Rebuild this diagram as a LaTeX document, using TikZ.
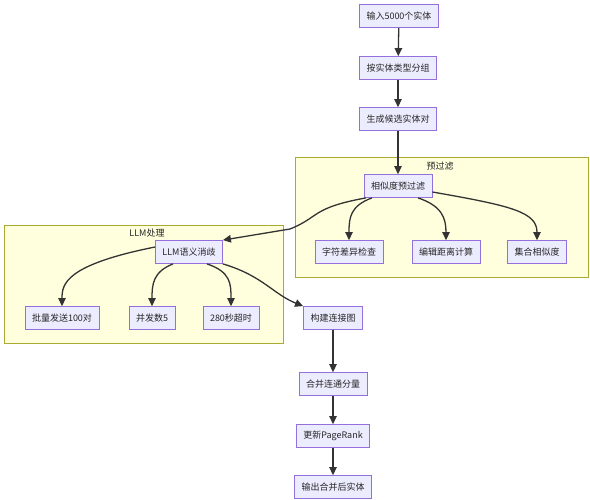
\documentclass[tikz,border=0pt]{standalone}
\usepackage{fontspec}
\newfontfamily\cjk{Noto Sans CJK SC}
\usetikzlibrary{arrows.meta}
\definecolor{nodefill}{HTML}{ECECFF}
\definecolor{nodeline}{HTML}{9370DB}
\definecolor{clfill}{HTML}{FFFFDE}
\definecolor{clline}{HTML}{AAAA33}
\definecolor{edge}{HTML}{333333}
\tikzset{
  box/.style={draw=nodeline, fill=nodefill, line width=0.8pt, inner xsep=7pt, inner ysep=0pt, minimum height=23pt, font=\cjk\fontsize{9}{11}\selectfont, text=black!85},
  cluster/.style={draw=clline, fill=clfill, line width=0.8pt},
  cltext/.style={font=\cjk\fontsize{9}{11}\selectfont, text=black!85},
  link/.style={draw=edge, line width=1.3pt, -{Triangle[length=8pt,width=7.5pt]}},
}
\begin{document}
\begin{tikzpicture}[x=1pt,y=-1pt]
\useasboundingbox (0,0) rectangle (590,500);
\fill[white] (0,0) rectangle (590,500);
% clusters
\draw[cluster] (295,157) rectangle (588,277);
\node[cltext] (lpre) at (440,166) {预过滤};
\draw[cluster] (4,225) rectangle (283,343);
\node[cltext] (lllm) at (147,233) {LLM处理};
% nodes
\node[box] (n1) at (399,16) {输入5000个实体};
\node[box] (n2) at (398,68) {按实体类型分组};
\node[box] (n3) at (398,119) {生成候选实体对};
\node[box] (n4) at (398,186) {相似度预过滤};
\node[box] (n5) at (349,252) {字符差异检查};
\node[box] (n6) at (446,252) {编辑距离计算};
\node[box] (n7) at (537,252) {集合相似度};
\node[box] (n8) at (189,252) {LLM语义消歧};
\node[box] (n9) at (62,318) {批量发送100对};
\node[box] (n10) at (152,318) {并发数5};
\node[box] (n11) at (231,318) {280秒超时};
\node[box] (n12) at (333,318) {构建连接图};
\node[box] (n13) at (333,384) {合并连通分量};
\node[box] (n14) at (333,436) {更新PageRank};
\node[box] (n15) at (333,487) {输出合并后实体};
% edges
\draw[link] (n1) -- (n2);
\draw[link] (n2) -- (n3);
\draw[link] (n3) -- (n4);
\draw[link] ([xshift=-26pt]n4.south) .. controls +(-22,8) and +(0,-22) .. (n5.north);
\draw[link] ([xshift=20pt]n4.south) .. controls +(24,8) and +(0,-22) .. (n6.north);
\draw[link] ([yshift=-6pt]n4.east) .. controls +(80,14) and +(0,-28) .. (n7.north);
\draw[link] ([xshift=-32pt]n4.south) .. controls +(-55,10) and +(30,-12) .. (290,229) .. controls +(-30,5) .. (n8.north east);
\draw[link] ([yshift=5pt]n8.west) .. controls +(-90,18) and +(0,-22) .. (n9.north);
\draw[link] ([xshift=-16pt]n8.south) .. controls +(-20,8) and +(0,-22) .. (n10.north);
\draw[link] ([xshift=18pt]n8.south) .. controls +(24,8) and +(0,-22) .. (n11.north);
\draw[link] (n8.south east) .. controls +(40,12) and +(-30,-12) .. (n12.north west);
\draw[link] (n12) -- (n13);
\draw[link] (n13) -- (n14);
\draw[link] (n14) -- (n15);
\end{tikzpicture}
\end{document}
